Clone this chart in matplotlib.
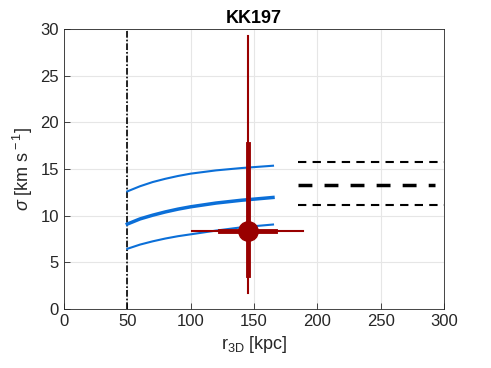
import matplotlib
matplotlib.use('Agg')

import numpy as np
import matplotlib.pyplot as plt

plt.rcParams['font.family'] = ['Liberation Sans', 'DejaVu Sans']
plt.rcParams['mathtext.fontset'] = 'custom'
plt.rcParams['mathtext.rm'] = 'Liberation Sans'
plt.rcParams['mathtext.it'] = 'Liberation Sans:italic'

# model curves (sigma vs r3D)
r_model = [50, 60, 70, 80, 90, 100, 120, 140, 165]
sig_hi = [12.6, 13.15, 13.6, 13.95, 14.25, 14.5, 14.85, 15.1, 15.35]
sig_mid = [9.1, 9.65, 10.05, 10.4, 10.7, 10.95, 11.35, 11.65, 11.95]
sig_lo = [6.45, 6.9, 7.25, 7.55, 7.8, 8.0, 8.4, 8.75, 9.05]

# observed point
r_obs = 145
sig_obs = 8.4
r_err_thin = (100.8, 189)
r_err_thick = (123, 166.5)
sig_err_thin = (1.7, 29.2)
sig_err_thick = (3.6, 17.7)

# reference levels
ref_x = (185, 300)
ref_mid = 13.3
ref_hi = 15.8
ref_lo = 11.1
r_cut = 50

fig = plt.figure(figsize=(4.91, 3.68), dpi=100)
ax = fig.add_axes([0.1303, 0.1603, 0.774, 0.761])

blue = '#0b6fd8'
red = '#990000'

ax.axvline(r_cut, color='k', lw=1.2, ls=(0, (4, 1.2, 1, 1.2)), zorder=3)
ax.plot(r_model, sig_hi, color=blue, lw=1.5, zorder=3)
ax.plot(r_model, sig_lo, color=blue, lw=1.5, zorder=3)
ax.plot(r_model, sig_mid, color=blue, lw=2.5, zorder=3)

ax.plot(ref_x, [ref_hi, ref_hi], color='k', lw=1.5, ls=(0, (4, 3)))
ax.plot(ref_x, [ref_lo, ref_lo], color='k', lw=1.5, ls=(0, (4, 3)))
ax.plot([ref_x[0], 293], [ref_mid, ref_mid], color='k', lw=2.5, ls=(0, (4, 3.5)))

ax.plot(r_err_thin, [sig_obs, sig_obs], color=red, lw=1.5, zorder=4)
ax.plot([r_obs, r_obs], sig_err_thin, color=red, lw=1.5, zorder=4)
ax.plot(r_err_thick, [sig_obs, sig_obs], color=red, lw=3.5, zorder=4)
ax.plot([r_obs, r_obs], sig_err_thick, color=red, lw=3.5, zorder=4)
ax.plot(r_obs, sig_obs, 'o', color=red, ms=14, zorder=5)

ax.set_xlim(0, 300)
ax.set_ylim(0, 30)
ax.set_xticks(np.arange(0, 301, 50))
ax.set_yticks(np.arange(0, 31, 5))
ax.grid(True, color='#e6e6e6', lw=0.8)
ax.set_axisbelow(True)
ax.tick_params(direction='in', length=4, labelsize=12, colors='#262626', width=0.6)
for s in ax.spines.values():
    s.set_color('#262626')
    s.set_linewidth(0.6)

ax.set_xlabel(r'r$_{\rm 3D}$ [kpc]', fontsize=13, color='#262626')
ax.set_ylabel(r'$\sigma$ [km s$^{\rm -1}$]', fontsize=13, color='#262626')
ax.set_title('KK197', fontsize=13, fontweight='bold', pad=4)

fig.savefig('out.png', dpi=100)
